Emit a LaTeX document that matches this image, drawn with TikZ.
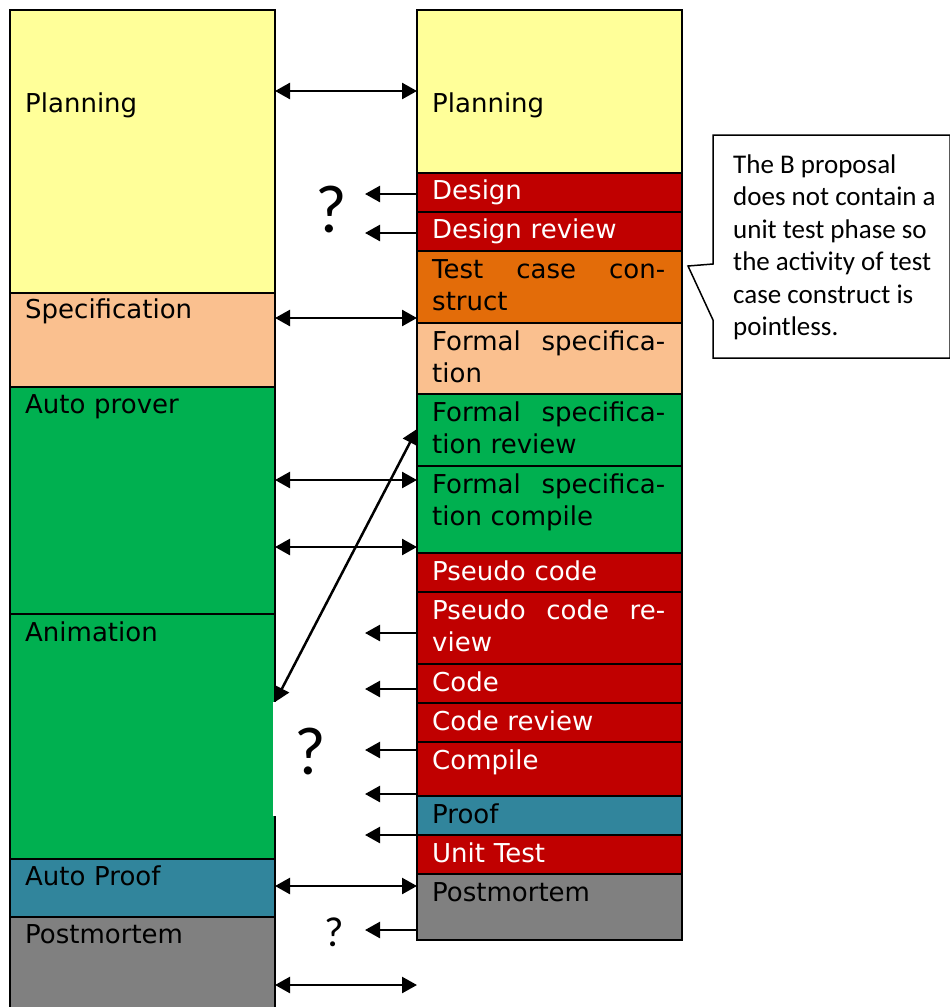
\documentclass[tikz,border=0pt]{standalone}
\usepackage{fontspec}
\setmainfont{DejaVu Sans}
\newfontfamily\calfont{Carlito}
\usetikzlibrary{arrows.meta}
\definecolor{yellowc}{HTML}{FFFF99}
\definecolor{peachc}{HTML}{FAC08F}
\definecolor{redc}{HTML}{C00000}
\definecolor{orangec}{HTML}{E36C09}
\definecolor{greenc}{HTML}{00B050}
\definecolor{tealc}{HTML}{31859C}
\definecolor{grayc}{HTML}{808080}
\tikzset{
  cell/.style={draw=black, line width=2.2pt, minimum width=265pt, inner sep=0pt, outer sep=0pt, anchor=north west},
  lbl/.style={anchor=north west, inner sep=0pt, text width=233pt, align=left, font=\fontsize{26}{32}\selectfont, execute at begin node=\strut},
  wlbl/.style={lbl, text=white},
  dbl/.style={{Triangle[length=15pt,width=16pt]}-{Triangle[length=15pt,width=16pt]}, line width=2.5pt},
  sgl/.style={-{Triangle[length=15pt,width=16pt]}, line width=2.5pt},
  qmark/.style={anchor=base, inner sep=0pt, font=\calfont\fontsize{68}{80}\selectfont},
}
\begin{document}
\begin{tikzpicture}[x=1pt,y=-1pt]
\useasboundingbox (0,0) rectangle (950,1007);
\fill[white] (0,0) rectangle (950,1007);
% left column
\node[cell, fill=yellowc, minimum height=283pt] (Lplan) at (10,10) {};
\node[cell, fill=peachc, minimum height=94pt] (Lspec) at (10,293) {};
\node[cell, fill=greenc, minimum height=227pt] (Lauto) at (10,387) {};
\node[cell, fill=greenc, minimum height=245pt] (Lanim) at (10,614) {};
\node[cell, fill=tealc, minimum height=58pt] (Lproof) at (10,859) {};
\node[cell, fill=grayc, minimum height=110pt] (Lpost) at (10,917) {};
\fill[white] (272.5,702) rectangle (278,816);
% right column
\node[cell, fill=yellowc, minimum height=163pt] (Rplan) at (417,10) {};
\node[cell, fill=redc, minimum height=39pt] (Rdes) at (417,173) {};
\node[cell, fill=redc, minimum height=39pt] (Rdesr) at (417,212) {};
\node[cell, fill=orangec, minimum height=72pt] (Rtest) at (417,251) {};
\node[cell, fill=peachc, minimum height=71pt] (Rfs) at (417,323) {};
\node[cell, fill=greenc, minimum height=72pt] (Rfsr) at (417,394) {};
\node[cell, fill=greenc, minimum height=87pt] (Rfsc) at (417,466) {};
\node[cell, fill=redc, minimum height=39pt] (Rpc) at (417,553) {};
\node[cell, fill=redc, minimum height=72pt] (Rpcr) at (417,592) {};
\node[cell, fill=redc, minimum height=39pt] (Rcode) at (417,664) {};
\node[cell, fill=redc, minimum height=39pt] (Rcr) at (417,703) {};
\node[cell, fill=redc, minimum height=54pt] (Rcomp) at (417,742) {};
\node[cell, fill=tealc, minimum height=39pt] (Rproof) at (417,796) {};
\node[cell, fill=redc, minimum height=39pt] (Rut) at (417,835) {};
\node[cell, fill=grayc, minimum height=66pt] (Rpost) at (417,874) {};
% left labels
\node[lbl] (tLplan) at (25,89.6) {Planning};
\node[lbl] (tLspec) at (25,295.6) {Specification};
\node[lbl] (tLauto) at (25,390.6) {Auto prover};
\node[lbl] (tLanim) at (25,618.6) {Animation};
\node[lbl] (tLproof) at (25,862.6) {Auto Proof};
\node[lbl] (tLpost) at (25,920.6) {Postmortem};
% right labels
\node[lbl] (tRplan) at (432,89.6) {Planning};
\node[wlbl] (tRdes) at (432,176.6) {Design};
\node[wlbl] (tRdesr) at (432,215.6) {Design review};
\node[lbl] (tRtest) at (432,255.6) {Test\hfill case\hfill con-\\struct};
\node[lbl] (tRfs) at (432,327.6) {Formal\hfill specifica-\\tion};
\node[lbl] (tRfsr) at (432,398.6) {Formal\hfill specifica-\\tion review};
\node[lbl] (tRfsc) at (432,470.6) {Formal\hfill specifica-\\tion compile};
\node[wlbl] (tRpc) at (432,557.6) {Pseudo code};
\node[wlbl] (tRpcr) at (432,596.6) {Pseudo\hfill code\hfill re-\\view};
\node[wlbl] (tRcode) at (432,668.6) {Code};
\node[wlbl] (tRcr) at (432,707.6) {Code review};
\node[wlbl] (tRcomp) at (432,746.6) {Compile};
\node[lbl] (tRproof) at (432,800.6) {Proof};
\node[wlbl] (tRut) at (432,839.6) {Unit Test};
\node[lbl] (tRpost) at (432,878.6) {Postmortem};
% callout
\draw[line width=1.5pt, fill=white] (713,135) -- (950,135) -- (950,358) -- (713,358) -- (713,320) -- (688,266) -- (713,264) -- cycle;
\node[anchor=north west, inner sep=0pt, align=left, font=\calfont\fontsize{27}{32.5}\selectfont] (note) at (733,150.25)
  {\strut The B proposal\\does not contain a\\unit test phase so\\the activity of test\\case construct is\\pointless.};
% question marks
\node[qmark] (q1) at (331,232) {?};
\node[qmark] (q2) at (310,774) {?};
\node[qmark, font=\calfont\fontsize{42}{50}\selectfont] (q3) at (334,946) {?};
% connector end points
\coordinate (a1l) at (275,91);  \coordinate (a1r) at (417,91);
\coordinate (a2l) at (275,318); \coordinate (a2r) at (417,318);
\coordinate (a3l) at (275,480); \coordinate (a3r) at (417,480);
\coordinate (a4l) at (275,547); \coordinate (a4r) at (417,547);
\coordinate (a5l) at (275,886); \coordinate (a5r) at (417,886);
\coordinate (a6l) at (275,985); \coordinate (a6r) at (417,985);
\coordinate (dgl) at (275,702); \coordinate (dgr) at (417,429);
\coordinate (s1r) at (417,194); \coordinate (s1l) at (365,194);
\coordinate (s2r) at (417,233); \coordinate (s2l) at (365,233);
\coordinate (s3r) at (417,633); \coordinate (s3l) at (365,633);
\coordinate (s4r) at (417,689); \coordinate (s4l) at (365,689);
\coordinate (s5r) at (417,750); \coordinate (s5l) at (365,750);
\coordinate (s6r) at (417,794); \coordinate (s6l) at (365,794);
\coordinate (s7r) at (417,835); \coordinate (s7l) at (365,835);
\coordinate (s8r) at (417,930); \coordinate (s8l) at (365,930);
% connectors
\draw[dbl] (a1l) -- (a1r);
\draw[dbl] (a2l) -- (a2r);
\draw[dbl] (a3l) -- (a3r);
\draw[dbl] (a4l) -- (a4r);
\draw[dbl] (a5l) -- (a5r);
\draw[dbl] (a6l) -- (a6r);
\draw[dbl] (dgl) -- (dgr);
\draw[sgl] (s1r) -- (s1l);
\draw[sgl] (s2r) -- (s2l);
\draw[sgl] (s3r) -- (s3l);
\draw[sgl] (s4r) -- (s4l);
\draw[sgl] (s5r) -- (s5l);
\draw[sgl] (s6r) -- (s6l);
\draw[sgl] (s7r) -- (s7l);
\draw[sgl] (s8r) -- (s8l);
\end{tikzpicture}
\end{document}
